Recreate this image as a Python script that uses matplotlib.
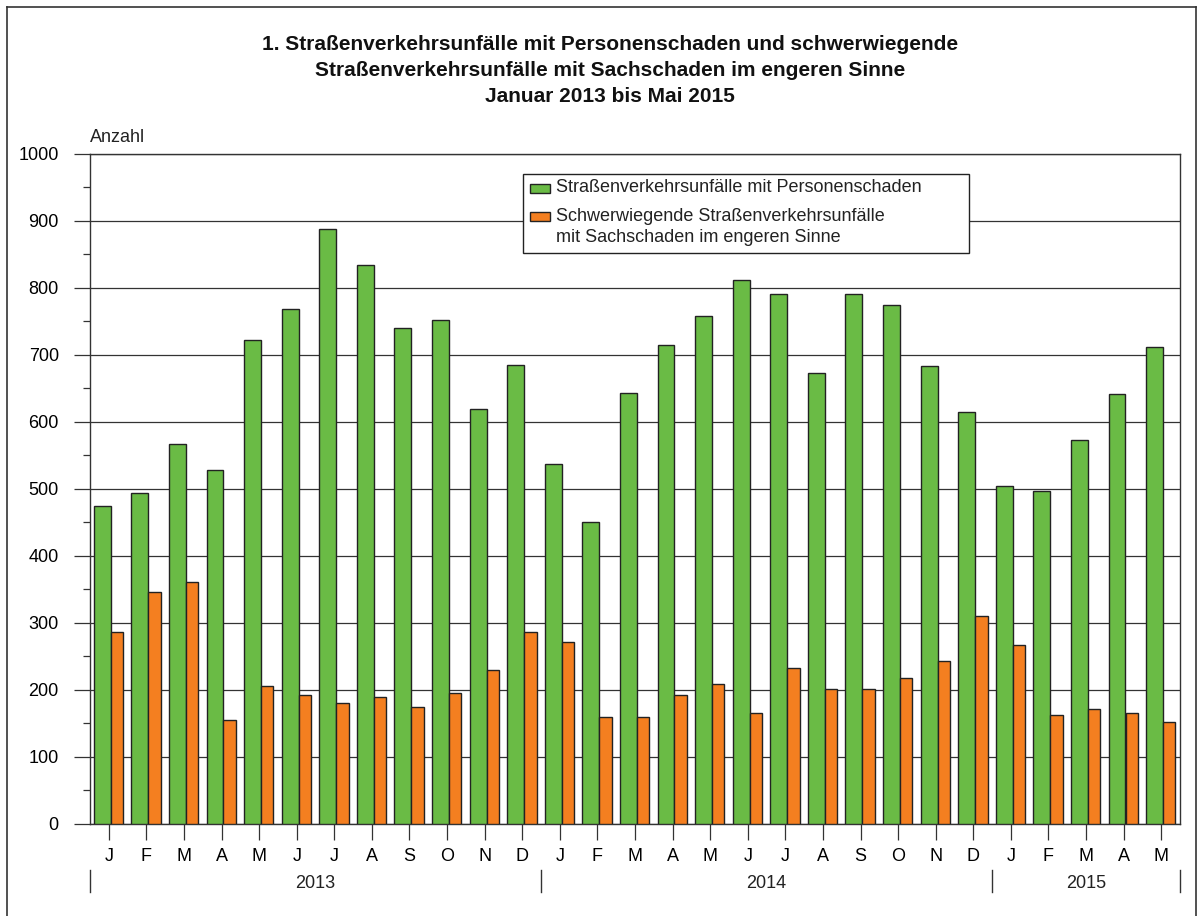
#!/usr/bin/env python3
# -*- coding: utf-8 -*-
# Strassenverkehrsunfaelle Januar 2013 bis Mai 2015 - monthly bar chart
import numpy as np
import matplotlib
matplotlib.use('Agg')
import matplotlib.pyplot as plt
from matplotlib.patches import Rectangle
from matplotlib.lines import Line2D
from matplotlib.ticker import MultipleLocator

plt.rcParams['font.family'] = ['Liberation Sans', 'DejaVu Sans']

# Data
months = ['J', 'F', 'M', 'A', 'M', 'J', 'J', 'A', 'S', 'O', 'N', 'D',
          'J', 'F', 'M', 'A', 'M', 'J', 'J', 'A', 'S', 'O', 'N', 'D',
          'J', 'F', 'M', 'A', 'M']
years = ['2013', '2014', '2015']
monthsPerYear = [12, 12, 5]

personenschaden = [475, 493, 567, 528, 722, 768, 888, 834, 740, 751, 619, 685,
                   537, 450, 643, 714, 757, 811, 791, 673, 791, 774, 683, 614,
                   504, 496, 573, 642, 711]
sachschaden = [287, 346, 361, 155, 206, 192, 180, 189, 175, 195, 229, 286,
               272, 160, 160, 192, 209, 166, 232, 201, 201, 218, 243, 310,
               267, 163, 172, 166, 152]

labelGreen = 'Straßenverkehrsunfälle mit Personenschaden'
labelOrange = ['Schwerwiegende Straßenverkehrsunfälle',
               'mit Sachschaden im engeren Sinne']
titleLines = ['1. Straßenverkehrsunfälle mit Personenschaden und schwerwiegende',
              'Straßenverkehrsunfälle mit Sachschaden im engeren Sinne',
              'Januar 2013 bis Mai 2015']

green = '#6abb45'
orange = '#f47f20'
edge = '#222222'

W, H = 1204, 916
fig = plt.figure(figsize=(W / 100, H / 100), dpi=100)


def fx(px):
    return px / W


def fy(py):
    return 1 - py / H


ax = fig.add_axes([fx(90), fy(824), fx(1180) - fx(90), fy(153.5) - fy(824)])

x = np.arange(len(months))
ax.bar(x - 0.175, personenschaden, width=0.45, color=green,
       edgecolor=edge, linewidth=1.0, zorder=3)
ax.bar(x + 0.215, sachschaden, width=0.33, color=orange,
       edgecolor=edge, linewidth=1.0, zorder=3)

ax.set_xlim(-0.5, len(months) - 0.5)
ax.set_ylim(0, 1000)

# y axis: gridlines + outward ticks
ax.yaxis.set_major_locator(MultipleLocator(100))
ax.yaxis.set_minor_locator(MultipleLocator(50))
ax.grid(axis='y', color='#333333', linewidth=0.9, zorder=0)
ax.set_axisbelow(True)
ax.tick_params(axis='y', which='major', direction='out', length=11.5,
               width=0.9, color='#333333', labelsize=13, pad=11)
ax.tick_params(axis='y', which='minor', direction='out', length=5,
               width=0.9, color='#333333')
ax.set_yticks(np.arange(0, 1001, 100))

# x axis: month letters
ax.set_xticks(x)
ax.set_xticklabels(months)
ax.tick_params(axis='x', direction='out', length=11.5, width=0.9,
               color='#333333', labelsize=13, pad=6)

for s in ax.spines.values():
    s.set_color('#333333')
    s.set_linewidth(1.0)

# year separators and labels
trans = ax.get_xaxis_transform()
start = -0.5
bounds = [start]
for n in monthsPerYear:
    bounds.append(bounds[-1] + n)
for b in bounds:
    ax.plot([b, b], [-0.069, -0.101], color='#333333', lw=1.0,
            transform=trans, clip_on=False)
for i, yr in enumerate(years):
    mid = (bounds[i] + bounds[i + 1]) / 2
    ax.text(mid, -0.088, yr, transform=trans, ha='center', va='center',
            fontsize=13, color='#222222')

# 'Anzahl' label
fig.text(fx(90), fy(137), 'Anzahl', ha='left', va='center', fontsize=13,
         color='#222222')

# title
titleY = [45, 70, 97]
for line, ty in zip(titleLines, titleY):
    fig.text(fx(610), fy(ty), line, ha='center', va='center', fontsize=15,
             fontweight='bold', color='#111111')

# legend box (drawn by hand to get the two-line label like the original)
fig.patches.append(Rectangle((fx(523), fy(253)), fx(969) - fx(523),
                             fy(174) - fy(253), transform=fig.transFigure,
                             facecolor='white', edgecolor='#222222', lw=1.0,
                             zorder=5))
fig.patches.append(Rectangle((fx(530), fy(192.5)), fx(20), fy(0) - fy(9),
                             transform=fig.transFigure, facecolor=green,
                             edgecolor=edge, lw=1.0, zorder=6))
fig.patches.append(Rectangle((fx(530), fy(221)), fx(20), fy(0) - fy(9),
                             transform=fig.transFigure, facecolor=orange,
                             edgecolor=edge, lw=1.0, zorder=6))
fig.text(fx(556), fy(188), labelGreen, ha='left', va='center', fontsize=13,
         color='#222222', zorder=7)
fig.text(fx(556), fy(216.5), labelOrange[0], ha='left', va='center',
         fontsize=13, color='#222222', zorder=7)
fig.text(fx(556), fy(238), labelOrange[1], ha='left', va='center',
         fontsize=13, color='#222222', zorder=7)

# outer frame (bottom edge is cut off in the original)
for xs, ys in [([7, 7], [930, 7]), ([7, 1196], [7, 7]), ([1196, 1196], [7, 930])]:
    fig.lines.append(Line2D([fx(v) for v in xs], [fy(v) for v in ys],
                            transform=fig.transFigure, color='#333333', lw=1.2))

fig.savefig('out.png', dpi=100)
